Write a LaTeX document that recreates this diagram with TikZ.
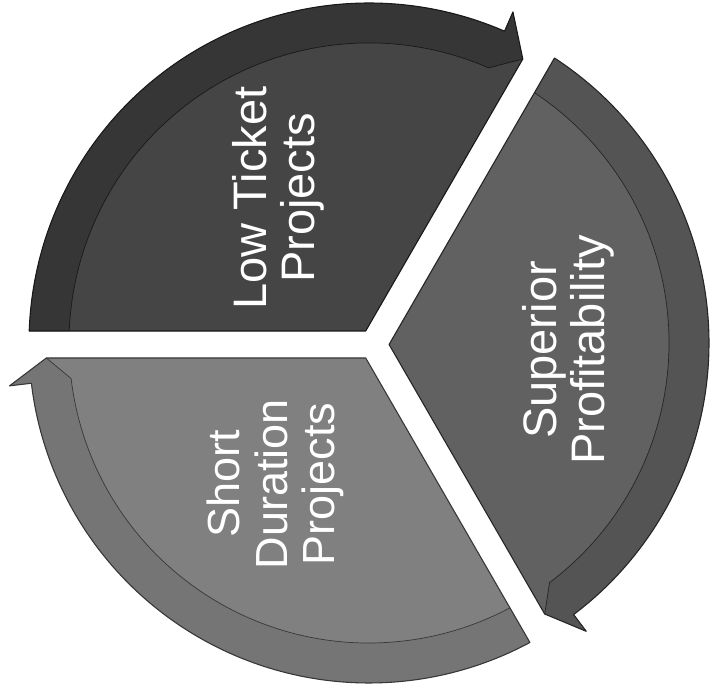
\documentclass[tikz,border=0pt]{standalone}
\usepackage{fontspec}
\setmainfont{Liberation Sans}
\definecolor{lowc}{gray}{0.27}
\definecolor{lowband}{gray}{0.21}
\definecolor{lowline}{gray}{0.10}
\definecolor{supc}{gray}{0.38}
\definecolor{supband}{gray}{0.33}
\definecolor{supline}{gray}{0.15}
\definecolor{shortc}{gray}{0.50}
\definecolor{shortband}{gray}{0.46}
\definecolor{shortline}{gray}{0.22}
\begin{document}
\begin{tikzpicture}[x=1pt,y=1pt,
  segment/.style={line width=1.1pt, line join=round},
  bandedge/.style={line width=0.7pt},
  lbl/.style={text=white, align=center, rotate=90, inner sep=0pt,
              font=\fontsize{47}{48}\selectfont},
  lblsmall/.style={lbl, font=\fontsize{45}{47.5}\selectfont}]
\useasboundingbox (-369,-347) rectangle (349,343);
\fill[white] (-369,-347) rectangle (349,343);

% key points
\coordinate (A1) at (-3.29,12);
\coordinate (P1) at (153.8,284.0);
\coordinate (A2) at (20.09,-1.5);
\coordinate (P2) at (175.7,-271.0);
\coordinate (A3) at (-3.29,-15);
\coordinate (P3) at (-322.65,-15);

\def\lowpath{(A1) -- (P1) -- (66.5:361) -- (66.5:340)
  arc[start angle=66.5, end angle=177.98, radius=340pt] -- cycle}
\def\suppath{(A2) -- (56.94:340)
  arc[start angle=56.94, end angle=-53, radius=340pt] -- (-53:361) -- (P2) -- cycle}
\def\shortpath{(A3) -- (P3) -- (186.8:362) -- (186.8:340)
  arc[start angle=186.8, end angle=298.25, radius=340pt] -- cycle}

% Low Ticket Projects
\fill[lowc] \lowpath;
\begin{scope}
  \clip \lowpath;
  \fill[lowband] (P1) -- (66.5:300)
    arc[start angle=66.5, end angle=185, radius=300pt] -- (185:345)
    arc[start angle=185, end angle=66.5, radius=345pt] -- (66.5:361) -- cycle;
  \draw[lowline, bandedge] (P1) -- (66.5:300)
    arc[start angle=66.5, end angle=185, radius=300pt];
\end{scope}
\draw[lowline, segment] \lowpath;

% Superior Profitability
\fill[supc] \suppath;
\begin{scope}
  \clip \suppath;
  \fill[supband] (P2) -- (-53:300)
    arc[start angle=-53, end angle=65, radius=300pt] -- (65:345)
    arc[start angle=65, end angle=-53, radius=345pt] -- (-53:361) -- cycle;
  \draw[supline, bandedge] (P2) -- (-53:300)
    arc[start angle=-53, end angle=65, radius=300pt];
\end{scope}
\draw[supline, segment] \suppath;

% Short Duration Projects
\fill[shortc] \shortpath;
\begin{scope}
  \clip \shortpath;
  \fill[shortband] (P3) -- (186.8:300)
    arc[start angle=186.8, end angle=305, radius=300pt] -- (305:345)
    arc[start angle=305, end angle=186.8, radius=345pt] -- (186.8:362) -- cycle;
  \draw[shortline, bandedge] (P3) -- (186.8:300)
    arc[start angle=186.8, end angle=305, radius=300pt];
\end{scope}
\draw[shortline, segment] \shortpath;

% labels
\node[lbl] (low) at (-91,145) {Low Ticket\\Projects};
\node[lbl] (sup) at (199,-7) {Superior\\Profitability};
\node[lblsmall] (short) at (-93.5,-141) {Short\\Duration\\Projects};
\end{tikzpicture}
\end{document}
